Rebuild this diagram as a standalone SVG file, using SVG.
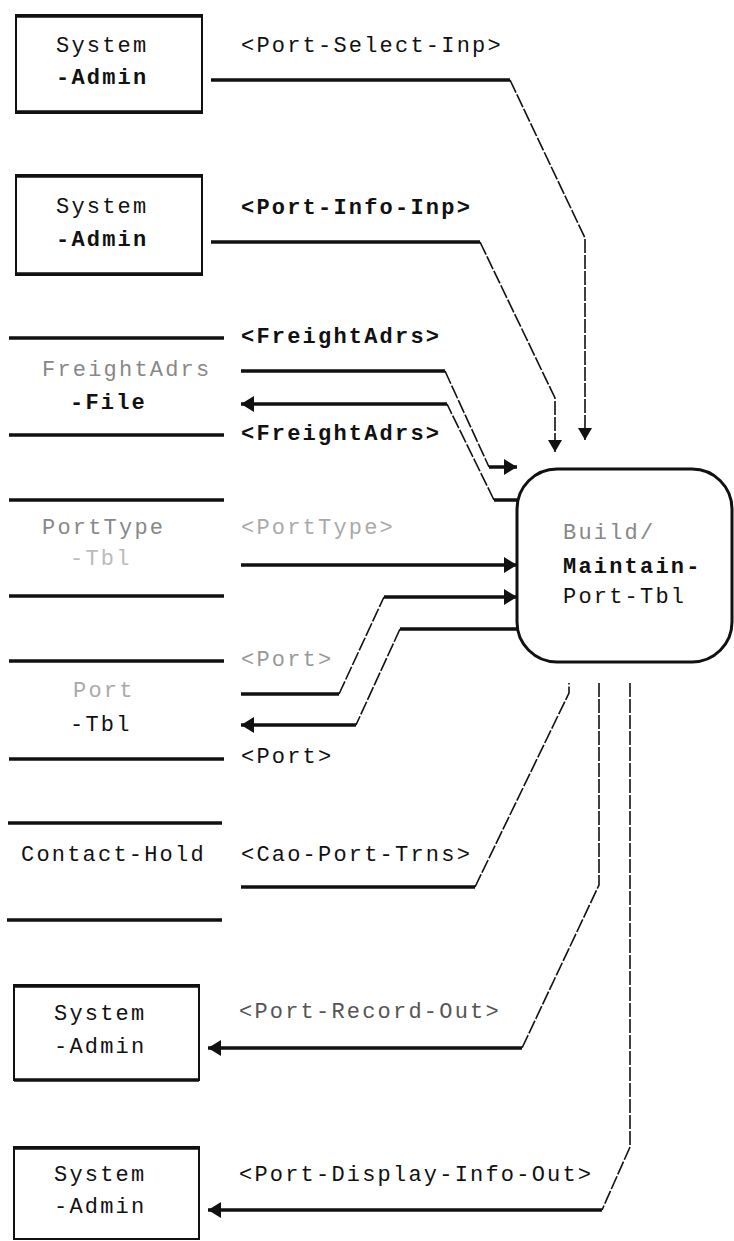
<svg xmlns="http://www.w3.org/2000/svg" width="734" height="1241" viewBox="0 0 734 1241">
<style>
text{font-family:"Liberation Mono","DejaVu Sans Mono",monospace;font-size:22px;letter-spacing:2.2px;fill:#111}
.b{font-weight:bold}
.f{fill:#888}
.box{fill:none;stroke:#111;stroke-width:2}
.boxt{stroke:#111;stroke-width:3.5}
.store{stroke:#111;stroke-width:3.5}
.thick{fill:none;stroke:#111;stroke-width:3.5}
.thin{fill:none;stroke:#111;stroke-width:1.6;stroke-dasharray:14 2}
</style>
<defs>
<marker id="ah" markerWidth="16" markerHeight="18" refX="13" refY="9" orient="auto" markerUnits="userSpaceOnUse">
<path d="M0,1 Q4,9 13,9 Q4,9 0,17 L3,9 Z M0,1 L13,9 L0,17 Z" fill="#111"/>
</marker>
<marker id="ahs" markerWidth="14" markerHeight="14" refX="12" refY="7" orient="auto" markerUnits="userSpaceOnUse">
<path d="M0,0 L12,7 L0,14 Z" fill="#111"/>
</marker>
</defs>

<g id="sysadmin1">
<rect class="box" x="16" y="15" width="186" height="98"/>
<line class="boxt" x1="16" y1="16" x2="202" y2="16"/>
<line class="boxt" x1="16" y1="112" x2="202" y2="112"/>
<text x="56" y="52">System</text>
<text class="b" x="56" y="84">-Admin</text>
</g>

<g id="sysadmin2">
<rect class="box" x="16" y="175" width="186" height="100"/>
<line class="boxt" x1="16" y1="176" x2="202" y2="176"/>
<line class="boxt" x1="16" y1="274" x2="202" y2="274"/>
<text x="56" y="213">System</text>
<text class="b" x="56" y="246">-Admin</text>
</g>

<g id="freightadrs-file">
<line class="store" x1="9" y1="338" x2="224" y2="338"/>
<line class="store" x1="9" y1="435" x2="224" y2="435"/>
<text class="f" x="42" y="376">FreightAdrs</text>
<text class="b" x="70" y="409">-File</text>
</g>

<g id="porttype-tbl">
<line class="store" x1="9" y1="500" x2="224" y2="500"/>
<line class="store" x1="9" y1="596" x2="224" y2="596"/>
<text class="f" x="42" y="534">PortType</text>
<text class="f" x="70" y="565" style="fill:#bbb">-Tbl</text>
</g>

<g id="port-tbl">
<line class="store" x1="9" y1="661" x2="224" y2="661"/>
<line class="store" x1="9" y1="759" x2="224" y2="759"/>
<text class="f" x="73" y="697" style="fill:#aaa">Port</text>
<text x="70" y="731">-Tbl</text>
</g>

<g id="contact-hold">
<line class="store" x1="8" y1="823" x2="222" y2="823"/>
<line class="store" x1="7" y1="920" x2="222" y2="920"/>
<text x="21" y="861">Contact-Hold</text>
</g>

<g id="build-maintain-port-tbl">
<rect x="517" y="469" width="215" height="193" rx="40" ry="40" fill="none" stroke="#111" stroke-width="3"/>
<text class="f" x="563" y="539">Build/</text>
<text class="b" x="563" y="573">Maintain-</text>
<text x="563" y="603">Port-Tbl</text>
</g>

<g id="sysadmin3">
<rect class="box" x="14" y="985" width="185" height="95"/>
<line class="boxt" x1="14" y1="986" x2="199" y2="986"/>
<line class="boxt" x1="14" y1="1080" x2="199" y2="1080"/>
<text x="54" y="1020">System</text>
<text x="54" y="1053">-Admin</text>
</g>

<g id="sysadmin4">
<rect class="box" x="14" y="1147" width="185" height="92"/>
<line class="boxt" x1="14" y1="1148" x2="199" y2="1148"/>
<text x="54" y="1181">System</text>
<text x="54" y="1213">-Admin</text>
</g>

<g id="connectors">
<path class="thick" d="M211,80 H510"/>
<path class="thin" d="M510,80 L585,238 V440" marker-end="url(#ahs)"/>
<text x="241" y="52">&lt;Port-Select-Inp&gt;</text>
<path class="thick" d="M211,242 H480"/>
<path class="thin" d="M480,242 L555,398 V452" marker-end="url(#ahs)"/>
<text class="b" x="241" y="214">&lt;Port-Info-Inp&gt;</text>
<path class="thick" d="M241,371 H445"/>
<path class="thin" d="M445,371 L489,467"/>
<path class="thick" d="M489,467 H517" marker-end="url(#ah)"/>
<text class="b" x="241" y="343">&lt;FreightAdrs&gt;</text>
<path class="thick" d="M517,500 H494"/>
<path class="thin" d="M494,500 L447,404"/>
<path class="thick" d="M447,404 H241" marker-end="url(#ah)"/>
<text class="b" x="241" y="440">&lt;FreightAdrs&gt;</text>
<path class="thick" d="M241,565 H517" marker-end="url(#ah)"/>
<text class="f" x="241" y="534" style="fill:#aaa">&lt;PortType&gt;</text>
<path class="thick" d="M241,694 H339"/>
<path class="thin" d="M339,694 L384,597"/>
<path class="thick" d="M384,597 H517" marker-end="url(#ah)"/>
<text class="f" x="241" y="666" style="fill:#999">&lt;Port&gt;</text>
<path class="thick" d="M517,629 H400"/>
<path class="thin" d="M400,629 L356,725"/>
<path class="thick" d="M356,725 H241" marker-end="url(#ah)"/>
<text x="241" y="763">&lt;Port&gt;</text>
<path class="thick" d="M241,887 H475"/>
<path class="thin" d="M475,887 L569,693 V683"/>
<text x="241" y="861">&lt;Cao-Port-Trns&gt;</text>
<path class="thin" d="M599,683 V885 L522,1048"/>
<path class="thick" d="M522,1048 H208" marker-end="url(#ah)"/>
<text class="f" x="239" y="1018" style="fill:#555">&lt;Port-Record-Out&gt;</text>
<path class="thin" d="M630,683 V1147 L602,1210"/>
<path class="thick" d="M602,1210 H208" marker-end="url(#ah)"/>
<text x="239" y="1181">&lt;Port-Display-Info-Out&gt;</text>
</g>
</svg>
